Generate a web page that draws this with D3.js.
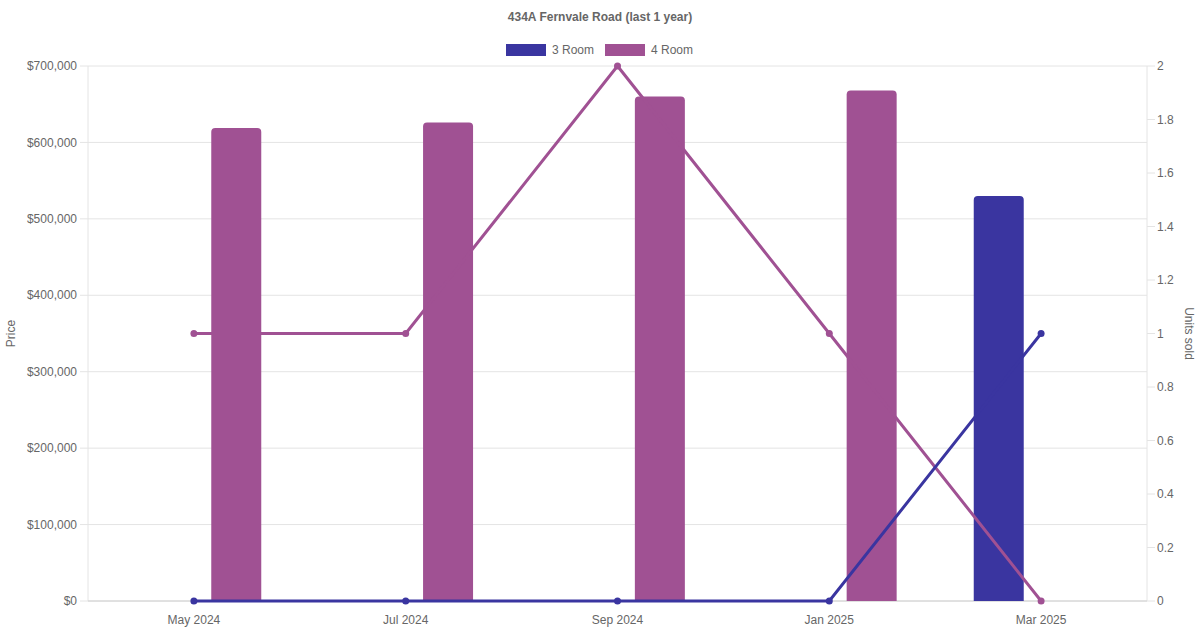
<!DOCTYPE html>
<meta charset="utf-8">
<head>
  <title>434A Fernvale Road</title>
  <style>
    body { margin: 0; background: #fff; }
    text { font-family: "Liberation Sans", Arial, Helvetica, sans-serif; }
  </style>
</head>
<body>
<script src="https://d3js.org/d3.v7.min.js"></script>
<script>
var WIDTH = 1200,
    HEIGHT = 630;

var months = ["May 2024", "Jul 2024", "Sep 2024", "Jan 2025", "Mar 2025"];
var seriesNames = ["3 Room", "4 Room"];
var seriesColors = ["#3a35a0", "#a05193"];

// price per month (null = no sale)
var price3Room = [null, null, null, null, 530000];
var price4Room = [619000, 626000, 660000, 668000, null];

// units sold per month
var units3Room = [0, 0, 0, 0, 1];
var units4Room = [1, 1, 2, 1, 0];

var priceTicks = [0, 100000, 200000, 300000, 400000, 500000, 600000, 700000];
var unitTicks = [0, 0.2, 0.4, 0.6, 0.8, 1, 1.2, 1.4, 1.6, 1.8, 2];

var margin = {top: 66, right: 53, bottom: 29, left: 88};
var plotW = WIDTH - margin.left - margin.right,
    plotH = HEIGHT - margin.top - margin.bottom;

var svg = d3.select("body").append("svg")
    .attr("width", WIDTH)
    .attr("height", HEIGHT);

var g = svg.append("g")
    .attr("transform", "translate(" + margin.left + "," + margin.top + ")");

var x = d3.scaleBand().domain(months).range([0, plotW]);
var xSub = d3.scaleBand().domain(seriesNames)
    .range([x.bandwidth() * 0.1, x.bandwidth() * 0.9]);
var yPrice = d3.scaleLinear().domain([0, 700000]).range([plotH, 0]);
var yUnits = d3.scaleLinear().domain([0, 2]).range([plotH, 0]);

// gridlines
g.selectAll(".grid").data(priceTicks).enter().append("line")
    .attr("x1", -8).attr("x2", plotW)
    .attr("y1", function(d) { return yPrice(d); })
    .attr("y2", function(d) { return yPrice(d); })
    .attr("stroke", "#e4e4e4").attr("stroke-width", 1);

g.selectAll(".rtick").data(unitTicks).enter().append("line")
    .attr("x1", plotW).attr("x2", plotW + 8)
    .attr("y1", function(d) { return yUnits(d); })
    .attr("y2", function(d) { return yUnits(d); })
    .attr("stroke", "#e4e4e4");

g.append("line").attr("x1", 0).attr("x2", 0).attr("y1", 0).attr("y2", plotH)
    .attr("stroke", "#e4e4e4");
g.append("line").attr("x1", plotW).attr("x2", plotW).attr("y1", 0).attr("y2", plotH)
    .attr("stroke", "#e4e4e4");
g.append("line").attr("x1", 0).attr("x2", plotW).attr("y1", plotH).attr("y2", plotH)
    .attr("stroke", "#d0d0d0");

// axis labels
var fmt = d3.format(",");
g.selectAll(".ylab").data(priceTicks).enter().append("text")
    .attr("x", -11).attr("y", function(d) { return yPrice(d); })
    .attr("dy", "0.35em").attr("text-anchor", "end")
    .attr("font-size", 12).attr("fill", "#666")
    .text(function(d) { return "$" + fmt(d); });

g.selectAll(".rlab").data(unitTicks).enter().append("text")
    .attr("x", plotW + 10).attr("y", function(d) { return yUnits(d); })
    .attr("dy", "0.35em").attr("text-anchor", "start")
    .attr("font-size", 12).attr("fill", "#666")
    .text(function(d) { return d; });

g.selectAll(".xlab").data(months).enter().append("text")
    .attr("x", function(d) { return x(d) + x.bandwidth() / 2; })
    .attr("y", plotH + 23)
    .attr("text-anchor", "middle")
    .attr("font-size", 12).attr("fill", "#666")
    .text(function(d) { return d; });

svg.append("text")
    .attr("transform", "translate(15," + (margin.top + plotH / 2) + ") rotate(-90)")
    .attr("text-anchor", "middle").attr("font-size", 12).attr("fill", "#666")
    .text("Price");

svg.append("text")
    .attr("transform", "translate(1185," + (margin.top + plotH / 2) + ") rotate(90)")
    .attr("text-anchor", "middle").attr("font-size", 12).attr("fill", "#666")
    .text("Units sold");

// bars
var priceSeries = [price3Room, price4Room];
var barW = 50;
priceSeries.forEach(function(vals, si) {
  g.selectAll(".bar" + si).data(months).enter()
    .filter(function(d, i) { return vals[i] != null; })
    .append("path")
    .attr("fill", seriesColors[si])
    .attr("d", function(d) {
      var i = months.indexOf(d);
      var cx = x(d) + xSub(seriesNames[si]) + xSub.bandwidth() / 2;
      var x0 = cx - barW / 2, x1 = cx + barW / 2;
      var y0 = yPrice(vals[i]), yb = yPrice(0), r = 4;
      return "M" + x0 + "," + yb + "V" + (y0 + r) +
        "Q" + x0 + "," + y0 + " " + (x0 + r) + "," + y0 +
        "H" + (x1 - r) +
        "Q" + x1 + "," + y0 + " " + x1 + "," + (y0 + r) +
        "V" + yb + "Z";
    });
});

// lines
var unitSeries = [units3Room, units4Room];
var line = d3.line()
    .x(function(d, i) { return x(months[i]) + x.bandwidth() / 2; })
    .y(function(d) { return yUnits(d); });

[1, 0].forEach(function(si) {
  var vals = unitSeries[si];
  g.append("path").datum(vals)
    .attr("d", line)
    .attr("fill", "none")
    .attr("stroke", seriesColors[si])
    .attr("stroke-width", 3);
  g.selectAll(".pt" + si).data(vals).enter().append("circle")
    .attr("cx", function(d, i) { return x(months[i]) + x.bandwidth() / 2; })
    .attr("cy", function(d) { return yUnits(d); })
    .attr("r", 3.5)
    .attr("fill", seriesColors[si]);
});

// title
svg.append("text")
    .attr("x", WIDTH / 2).attr("y", 21)
    .attr("text-anchor", "middle")
    .attr("font-size", 12).attr("font-weight", "bold").attr("fill", "#666")
    .text("434A Fernvale Road (last 1 year)");

// legend
var legendX = [506, 605];
seriesNames.forEach(function(name, i) {
  svg.append("rect")
    .attr("x", legendX[i]).attr("y", 44)
    .attr("width", 40).attr("height", 12)
    .attr("fill", seriesColors[i]);
  svg.append("text")
    .attr("x", legendX[i] + 46).attr("y", 50)
    .attr("dy", "0.35em")
    .attr("font-size", 12).attr("fill", "#666")
    .text(name);
});
</script>
</body>
